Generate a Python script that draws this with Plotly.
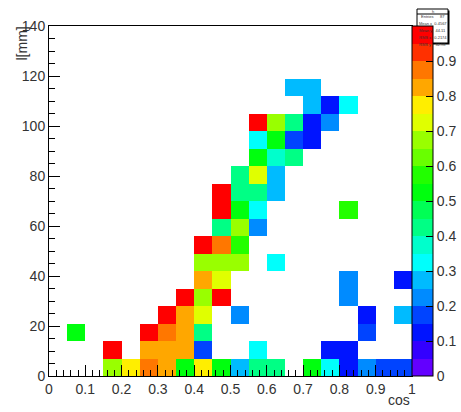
import colorsys
import numpy as np
import plotly.graph_objects as go

# ---------------- data ----------------
N_COS_BINS = 20
N_L_BINS = 20
COS_RANGE = [0.0, 1.0]
L_RANGE = [0.0, 140.0]

_ = None
# one row per l-bin (bottom row first), one entry per cos-bin
z_rows = [
    [_, _, _, .67, .77, .87, .82, .53, .79, .53, .27, .42, .42, _, .52, .32, .12, .22, .17, .16],
    [_, _, _, .97, _, .82, .82, .82, .18, _, _, .32, _, _, _, .12, .12, _, _, _],
    [_, .52, _, _, _, .97, .87, .82, .42, _, _, _, _, _, _, _, _, .18, _, _],
    [_, _, _, _, _, _, .97, .82, .72, _, .22, _, _, _, _, _, _, .12, _, .27],
    [_, _, _, _, _, _, _, .97, .67, .97, _, _, _, _, _, _, .22, _, _, _],
    [_, _, _, _, _, _, _, _, .82, .72, _, _, _, _, _, _, .22, _, _, .12],
    [_, _, _, _, _, _, _, _, .67, .67, .67, _, .32, _, _, _, _, _, _, _],
    [_, _, _, _, _, _, _, _, .97, .87, .55, _, _, _, _, _, _, _, _, _],
    [_, _, _, _, _, _, _, _, _, .42, .67, .22, _, _, _, _, _, _, _, _],
    [_, _, _, _, _, _, _, _, _, .97, .53, .32, _, _, _, _, .55, _, _, _],
    [_, _, _, _, _, _, _, _, _, .97, .42, .42, .27, _, _, _, _, _, _, _],
    [_, _, _, _, _, _, _, _, _, _, .42, .72, .27, _, _, _, _, _, _, _],
    [_, _, _, _, _, _, _, _, _, _, _, .53, .37, .42, _, _, _, _, _, _],
    [_, _, _, _, _, _, _, _, _, _, _, .32, .53, .17, .12, _, _, _, _, _],
    [_, _, _, _, _, _, _, _, _, _, _, .97, .67, .42, .12, .22, _, _, _, _],
    [_, _, _, _, _, _, _, _, _, _, _, _, _, _, .27, .12, .32, _, _, _],
    [_, _, _, _, _, _, _, _, _, _, _, _, _, .27, .27, _, _, _, _, _],
    [_] * 20,
    [_] * 20,
    [_] * 20,
]

x_ticks = [0, 0.1, 0.2, 0.3, 0.4, 0.5, 0.6, 0.7, 0.8, 0.9, 1]
x_ticklabels = ["0", "0.1", "0.2", "0.3", "0.4", "0.5", "0.6", "0.7", "0.8", "0.9", "1"]
y_ticks = [0, 20, 40, 60, 80, 100, 120, 140]
y_ticklabels = ["0", "20", "40", "60", "80", "100", "120", "140"]
cb_ticks = [0, 0.1, 0.2, 0.3, 0.4, 0.5, 0.6, 0.7, 0.8, 0.9]
cb_ticklabels = ["0", "0.1", "0.2", "0.3", "0.4", "0.5", "0.6", "0.7", "0.8", "0.9"]

stats_title = "h"
stats_lines = ["Entries      87", "Mean x  0.4567", "Mean y   44.11", "RMS x   0.2174", "RMS y    32.98"]

# ---------------- palette (ROOT pretty palette, 20 contours) ----------------
N_LEVELS = 20
N_COLORS = 50
colorscale = []
for c in range(N_LEVELS):
    idx = int((c + 0.99) * N_COLORS / N_LEVELS)
    hue = 280 - (idx + 1) * (280.0 / N_COLORS)
    r, g, b = colorsys.hls_to_rgb(hue / 360.0, 0.5, 1.0)
    col = "rgb(%d,%d,%d)" % (round(r * 255), round(g * 255), round(b * 255))
    colorscale.append([c / N_LEVELS, col])
    colorscale.append([(c + 1) / N_LEVELS, col])

x_edges = np.linspace(COS_RANGE[0], COS_RANGE[1], N_COS_BINS + 1)
y_edges = np.linspace(L_RANGE[0], L_RANGE[1], N_L_BINS + 1)

FONT = "Liberation Sans, Arial, sans-serif"
TXT = "#333333"

W, H = 461, 412
ML, MR, MT, MB = 49, 49, 26, 36
PW = W - ML - MR
PH = H - MT - MB


def px2x(px):
    return (px - ML) / PW


def py2y(py):
    return (H - MB - py) / PH


fig = go.Figure()
fig.add_trace(go.Heatmap(
    x=x_edges, y=y_edges, z=z_rows,
    zmin=0, zmax=1, colorscale=colorscale,
    hoverongaps=False,
    colorbar=dict(
        x=1.0, xanchor="left", xpad=0, y=0.5, yanchor="middle", ypad=0,
        len=1.0, lenmode="fraction", thickness=21, thicknessmode="pixels",
        outlinewidth=1, outlinecolor="black",
        tickmode="array", tickvals=cb_ticks, ticktext=cb_ticklabels,
        ticks="inside", ticklen=7, tickcolor="black", tickwidth=1,
        tickfont=dict(family=FONT, size=14, color=TXT),
    ),
))

fig.update_xaxes(
    range=COS_RANGE, showgrid=False, zeroline=False,
    showline=True, linecolor="black", linewidth=1, mirror=True,
    tickmode="array", tickvals=x_ticks, ticktext=x_ticklabels,
    ticks="inside", ticklen=11, tickcolor="black", tickwidth=1,
    minor=dict(dtick=0.02, ticks="inside", ticklen=6, tickcolor="black", tickwidth=1, showgrid=False),
    tickfont=dict(family=FONT, size=14, color=TXT),
)
fig.update_yaxes(
    range=L_RANGE, showgrid=False, zeroline=False,
    showline=True, linecolor="black", linewidth=1, mirror=True,
    tickmode="array", tickvals=y_ticks, ticktext=y_ticklabels,
    ticks="inside", ticklen=11, tickcolor="black", tickwidth=1,
    minor=dict(dtick=5, ticks="inside", ticklen=6, tickcolor="black", tickwidth=1, showgrid=False),
    tickfont=dict(family=FONT, size=14, color=TXT),
)

annotations = [
    dict(text="l[mm]", xref="paper", yref="paper", x=px2x(21.5), y=py2y(25),
         xanchor="center", yanchor="top", textangle=-90, showarrow=False,
         font=dict(family=FONT, size=14, color=TXT)),
    dict(text="cos", xref="paper", yref="paper", x=1.0, y=py2y(400),
         xanchor="right", yanchor="middle", showarrow=False,
         font=dict(family=FONT, size=14, color=TXT)),
]

# stats box
sx0, sx1, sy0, sy1 = 417, 448, 9, 43
shapes = [
    dict(type="rect", xref="paper", yref="paper", x0=px2x(sx0 + 1.5), x1=px2x(sx1 + 1.5),
         y0=py2y(sy0 + 1.5), y1=py2y(sy1 + 1.5), fillcolor="black", line=dict(width=0)),
    dict(type="rect", xref="paper", yref="paper", x0=px2x(sx0), x1=px2x(sx1),
         y0=py2y(sy0), y1=py2y(sy1), fillcolor="white", line=dict(color="black", width=1)),
    dict(type="line", xref="paper", yref="paper", x0=px2x(sx0), x1=px2x(sx1),
         y0=py2y(sy0 + 5), y1=py2y(sy0 + 5), line=dict(color="black", width=1)),
]
annotations.append(dict(text=stats_title, xref="paper", yref="paper",
                        x=px2x((sx0 + sx1) / 2), y=py2y(sy0 + 2.5), xanchor="center",
                        yanchor="middle", showarrow=False,
                        font=dict(family=FONT, size=4, color=TXT)))
for k, line in enumerate(stats_lines):
    annotations.append(dict(text=line, xref="paper", yref="paper",
                            x=px2x((sx0 + sx1) / 2), y=py2y(sy0 + 8 + k * 6.8),
                            xanchor="center", yanchor="middle", showarrow=False,
                            font=dict(family=FONT, size=4, color=TXT)))

fig.update_layout(
    width=W, height=H,
    margin=dict(l=ML, r=MR, t=MT, b=MB, pad=0, autoexpand=False),
    paper_bgcolor="white", plot_bgcolor="white",
    showlegend=False,
    shapes=shapes, annotations=annotations,
)

fig.write_html(
    "out.html",
    config={"displayModeBar": False},
    post_script="document.body.style.margin='0';document.body.style.overflow='hidden';",
)
